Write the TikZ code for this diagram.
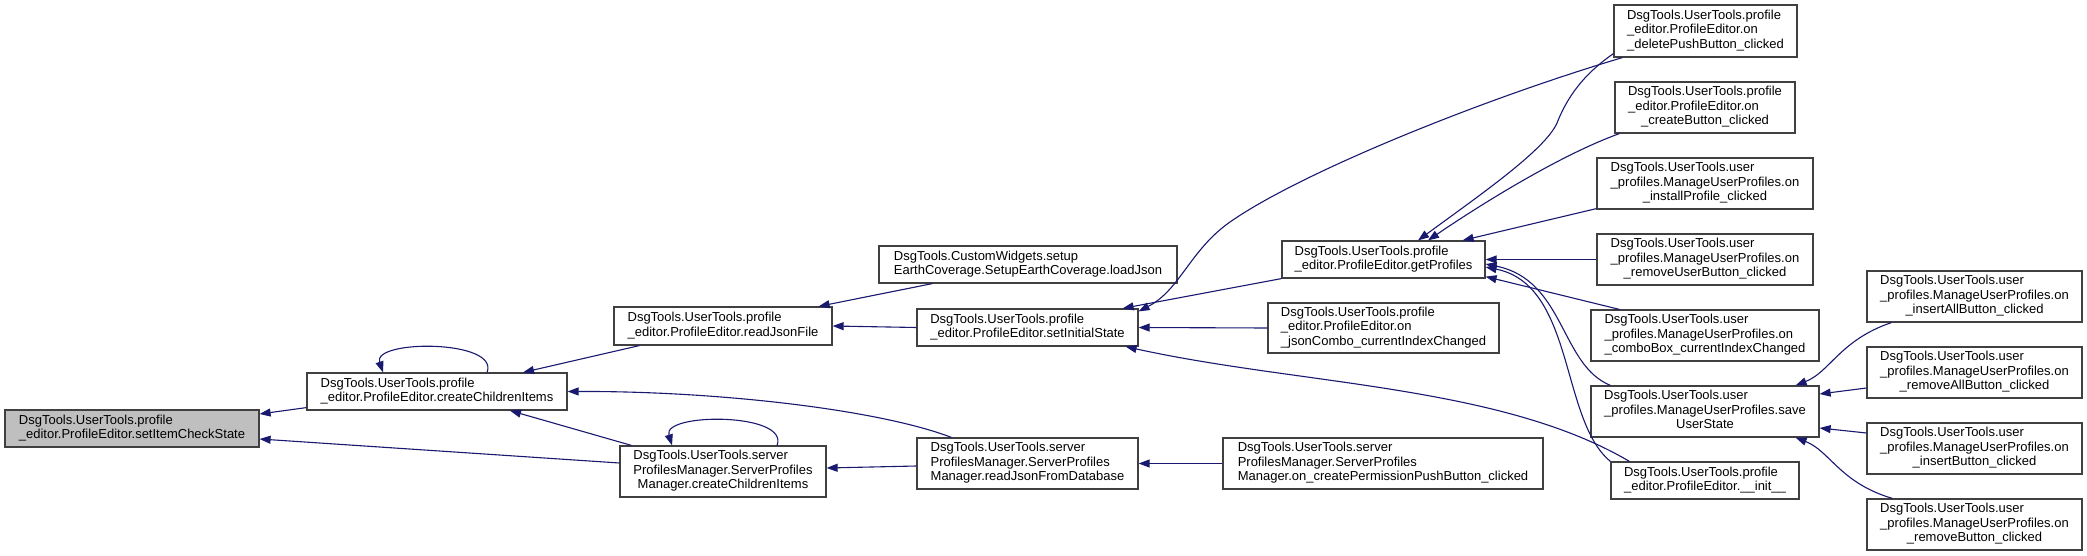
\documentclass[tikz,border=0pt]{standalone}
\usepackage{fontspec}
\setmainfont{Liberation Sans}
\usetikzlibrary{arrows.meta,calc}
\definecolor{edgec}{HTML}{191970}
\definecolor{boxc}{HTML}{404040}
\definecolor{rootc}{HTML}{BFBFBF}
\newcommand{\tb}[2]{\begin{tabular}{@{}l@{}}#1\\\multicolumn{1}{@{}c@{}}{#2}\end{tabular}}
\begin{document}
\begin{tikzpicture}[x=1pt,y=-1pt,
  box/.style={draw=boxc, line width=1.2pt, inner sep=0pt, fill=white,
    font=\fontsize{13}{14.5}\selectfont},
  arr/.style={draw=edgec, line width=1.1pt, arrows={Triangle[length=11pt,width=8pt]-}}]
\useasboundingbox[fill=white] (0,0) rectangle (2087,556);
% nodes
\node[box, fill=rootc, minimum width=254pt, minimum height=37pt] (sICS) at (132,428.5)
  {\tb{DsgTools.UserTools.profile}{\_editor.ProfileEditor.setItemCheckState}};
\node[box, minimum width=260pt, minimum height=37pt] (peCCI) at (437,391.5)
  {\tb{DsgTools.UserTools.profile}{\_editor.ProfileEditor.createChildrenItems}};
\node[box, minimum width=218pt, minimum height=38pt] (rJF) at (723,326)
  {\tb{DsgTools.UserTools.profile}{\_editor.ProfileEditor.readJsonFile}};
\node[box, minimum width=298pt, minimum height=37pt] (lJ) at (1028,264.5)
  {\tb{DsgTools.CustomWidgets.setup}{EarthCoverage.SetupEarthCoverage.loadJson}};
\node[box, minimum width=221pt, minimum height=37pt] (sIS) at (1027.5,327.5)
  {\tb{DsgTools.UserTools.profile}{\_editor.ProfileEditor.setInitialState}};
\node[box, minimum width=206pt, minimum height=51pt] (spmCCI) at (723,471.5)
  {\tb{DsgTools.UserTools.server\\ProfilesManager.ServerProfiles}{Manager.createChildrenItems}};
\node[box, minimum width=221pt, minimum height=51pt] (rJFD) at (1027.5,463.5)
  {\tb{DsgTools.UserTools.server\\ProfilesManager.ServerProfiles}{Manager.readJsonFromDatabase}};
\node[box, minimum width=203pt, minimum height=37pt] (gP) at (1383.5,259.5)
  {\tb{DsgTools.UserTools.profile}{\_editor.ProfileEditor.getProfiles}};
\node[box, minimum width=231pt, minimum height=50pt] (jC) at (1383.5,328)
  {\tb{DsgTools.UserTools.profile\\\_editor.ProfileEditor.on}{\_jsonCombo\_currentIndexChanged}};
\node[box, minimum width=320pt, minimum height=51pt] (cPPB) at (1383,463.5)
  {\tb{DsgTools.UserTools.server\\ProfilesManager.ServerProfiles}{Manager.on\_createPermissionPushButton\_clicked}};
\node[box, minimum width=183pt, minimum height=52pt] (dPB) at (1705.5,31)
  {\tb{DsgTools.UserTools.profile\\\_editor.ProfileEditor.on}{\_deletePushButton\_clicked}};
\node[box, minimum width=180pt, minimum height=51pt] (cB) at (1705,107.5)
  {\tb{DsgTools.UserTools.profile\\\_editor.ProfileEditor.on}{\_createButton\_clicked}};
\node[box, minimum width=216pt, minimum height=51pt] (iP) at (1705,183.5)
  {\tb{DsgTools.UserTools.user\\\_profiles.ManageUserProfiles.on}{\_installProfile\_clicked}};
\node[box, minimum width=216pt, minimum height=51pt] (rUB) at (1705,259.5)
  {\tb{DsgTools.UserTools.user\\\_profiles.ManageUserProfiles.on}{\_removeUserButton\_clicked}};
\node[box, minimum width=228pt, minimum height=51pt] (cBx) at (1705,335.5)
  {\tb{DsgTools.UserTools.user\\\_profiles.ManageUserProfiles.on}{\_comboBox\_currentIndexChanged}};
\node[box, minimum width=228pt, minimum height=51pt] (sUS) at (1705,411.5)
  {\tb{DsgTools.UserTools.user\\\_profiles.ManageUserProfiles.save}{UserState}};
\node[box, minimum width=188pt, minimum height=37pt] (init) at (1705,480.5)
  {\tb{DsgTools.UserTools.profile}{\_editor.ProfileEditor.\_\_init\_\_}};
\node[box, minimum width=215pt, minimum height=51pt] (iAB) at (1974.5,296.5)
  {\tb{DsgTools.UserTools.user\\\_profiles.ManageUserProfiles.on}{\_insertAllButton\_clicked}};
\node[box, minimum width=215pt, minimum height=51pt] (rAB) at (1974.5,372.5)
  {\tb{DsgTools.UserTools.user\\\_profiles.ManageUserProfiles.on}{\_removeAllButton\_clicked}};
\node[box, minimum width=215pt, minimum height=51pt] (iB) at (1974.5,448.5)
  {\tb{DsgTools.UserTools.user\\\_profiles.ManageUserProfiles.on}{\_insertButton\_clicked}};
\node[box, minimum width=215pt, minimum height=51pt] (rB) at (1974.5,524.5)
  {\tb{DsgTools.UserTools.user\\\_profiles.ManageUserProfiles.on}{\_removeButton\_clicked}};
% edges (arrow at callee)
\draw[arr] ([yshift=14.5pt]sICS.east) -- ([yshift=3pt]peCCI.south west);
\draw[arr] ([yshift=-10.5pt]sICS.east) -- ([yshift=8.5pt]spmCCI.west);
\draw[arr] ([xshift=-54pt]peCCI.north) .. controls +(-11,-33) and +(13,-33) .. ([xshift=50pt]peCCI.north);
\draw[arr] ([xshift=86pt]peCCI.north) -- ([xshift=26pt]rJF.south west);
\draw[arr] ([xshift=73pt]peCCI.south) -- ([xshift=12pt]spmCCI.north west);
\draw[arr] (peCCI.east) .. controls (720,391) and (880,410) .. ([xshift=35pt]rJFD.north west);
\draw[arr] ([xshift=-14pt]rJF.north east) -- ([xshift=54pt]lJ.south west);
\draw[arr] (rJF.east) -- (sIS.west);
\draw[arr] ([yshift=3.5pt]spmCCI.east) -- ([yshift=-2.5pt]rJFD.west);
\draw[arr] ([xshift=-51pt]spmCCI.north) .. controls +(-10,-33) and +(13,-33) .. ([xshift=54pt]spmCCI.north);
\draw[arr] (rJFD.east) -- (cPPB.west);
\draw[arr] ([xshift=-16pt]sIS.north east) -- (gP.south west);
\draw[arr] (sIS.east) -- (jC.west);
\draw[arr] ([xshift=-13pt]sIS.south east) .. controls (1300,385) and (1500,385) .. ([xshift=19pt]init.north west);
\draw[arr] ([yshift=-3pt]sIS.north east) .. controls (1180,290) and (1190,250) .. (1230,222)
  .. controls (1300,173) and (1480,100) .. ([xshift=9pt]dPB.south west);
\draw[arr] ([xshift=34.5pt]gP.north) .. controls (1480,195) and (1545,150) .. (1557,123)
  .. controls (1570,90) and (1590,70) .. ([yshift=4pt]dPB.south west);
\draw[arr] ([xshift=44.5pt]gP.north) .. controls (1480,205) and (1560,155) .. ([xshift=5pt]cB.south west);
\draw[arr] ([xshift=-23pt]gP.north east) -- ([yshift=1pt]iP.south west);
\draw[arr] (gP.east) -- (rUB.west);
\draw[arr] ([yshift=2pt]gP.south east) -- ([xshift=29pt]cBx.north west);
\draw[arr] ([yshift=-4.5pt]gP.east) .. controls (1565,280) and (1560,365) .. ([xshift=20pt]sUS.north west);
\draw[arr] ([yshift=-7.5pt]gP.east) .. controls (1575,285) and (1560,420) .. (init.north west);
\draw[arr] ([xshift=-24pt]sUS.north east) .. controls (1830,372) and (1840,340) .. ([xshift=25pt]iAB.south west);
\draw[arr] ([yshift=17.5pt]sUS.east) -- ([yshift=-15.5pt]rAB.west);
\draw[arr] ([yshift=-16.5pt]sUS.east) -- ([yshift=15.5pt]iB.west);
\draw[arr] ([xshift=-24pt]sUS.south east) .. controls (1830,451) and (1840,483) .. ([xshift=26pt]rB.north west);
\end{tikzpicture}
\end{document}
